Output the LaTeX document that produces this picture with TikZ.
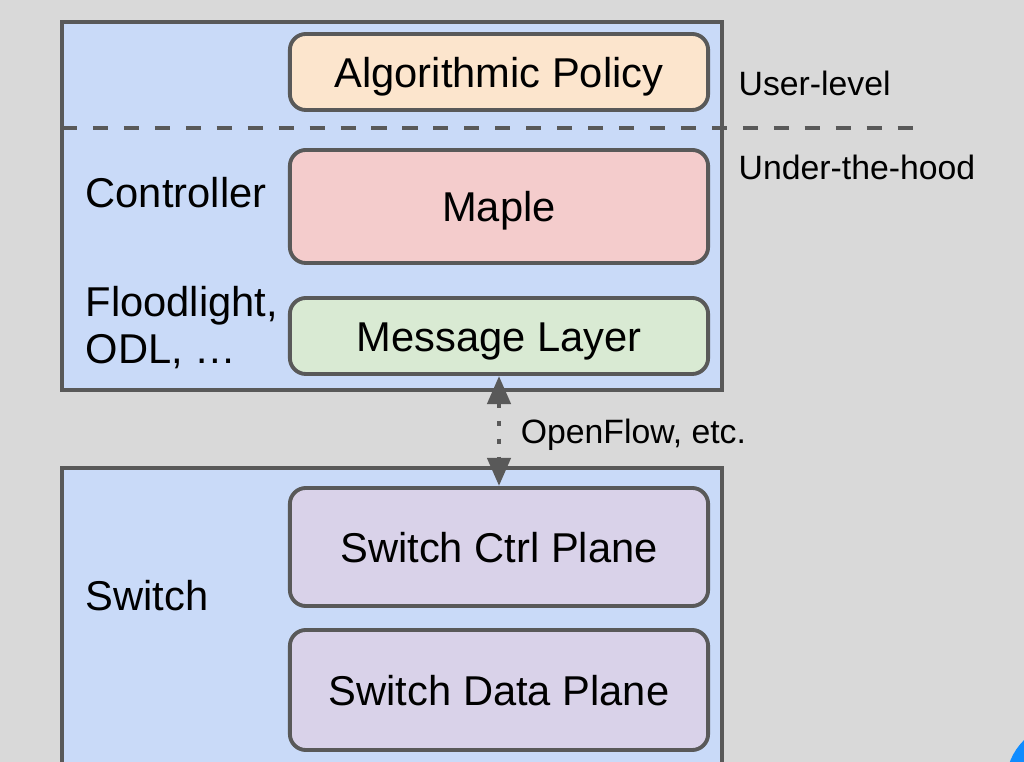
\documentclass[tikz,border=0pt]{standalone}
\usepackage{fontspec}
\setmainfont{Liberation Sans}
\usepackage{tikz}
\usetikzlibrary{arrows.meta, positioning}

\definecolor{bggray}{HTML}{D9D9D9}
\definecolor{edgegray}{HTML}{595959}
\definecolor{panelblue}{HTML}{C9DAF8}
\definecolor{policyfill}{HTML}{FCE5CD}
\definecolor{maplefill}{HTML}{F4CCCC}
\definecolor{msgfill}{HTML}{D9EAD3}
\definecolor{switchfill}{HTML}{D9D2E9}
\definecolor{cornerblue}{RGB}{16,140,255}

\begin{document}
\begin{tikzpicture}[
    x=0.01cm, y=-0.01cm,
    panel/.style={draw=edgegray, fill=panelblue, line width=1.1pt},
    layer/.style={rectangle, rounded corners=0.16cm, draw=edgegray, line width=1.1pt, minimum width=4.18cm, text height=0.86em, text depth=0pt, font=\fontsize{11.85}{14.2}\selectfont},
    sidelabel/.style={anchor=west, align=left, inner sep=0pt, font=\fontsize{11.85}{13.4}\selectfont},
    note/.style={anchor=west, inner sep=0pt, font=\fontsize{9.6}{11.5}\selectfont},
    link/.style={{Triangle[length=8pt,width=6.5pt]}-{Triangle[length=8pt,width=6.5pt]}, draw=edgegray, line width=1.4pt, dash pattern=on 1.4pt off 3.7pt}
]

% page and background
\useasboundingbox (0,0) rectangle (1024,762);
\fill[bggray] (0,0) rectangle (1024,762);
\fill[cornerblue] (1066,783) circle (60);

% outer panels
\draw[panel] (62,22) rectangle (722,390);
\draw[panel] (62,468) rectangle (722,800);

% controller layers
\node[layer, fill=policyfill, minimum height=0.76cm] (policy) at (499,72) {Algorithmic Policy};
\node[layer, fill=maplefill, minimum height=1.13cm] (maple) at (499,206.5) {Maple};
\node[layer, fill=msgfill, minimum height=0.76cm] (msg) at (499,336) {Message Layer};

% switch layers
\node[layer, fill=switchfill, minimum height=1.18cm] (ctrl) at (499,547) {Switch Ctrl Plane};
\node[layer, fill=switchfill, minimum height=1.20cm] (data) at (499,690) {Switch Data Plane};

% user-level / under-the-hood split
\coordinate (splitL) at (62,128);
\coordinate (splitR) at (915,128);
\draw[edgegray, line width=1.3pt, dash pattern=on 4.3pt off 4.5pt] (splitL) -- (splitR);
\node[note] (user) at (738,83) {User-level};
\node[note] (hood) at (738,167) {Under-the-hood};

% panel labels
\node[sidelabel] (controller) at (85,193) {Controller};
\node[sidelabel] (impls) at (85,328) {Floodlight,\\ODL, \dots};
\node[sidelabel] (switch) at (85,596) {Switch};

% protocol between controller and switch
\draw[link] (msg.south) -- node[note, right=5.5pt, yshift=-1.1pt] (proto) {OpenFlow, etc.} (ctrl.north);

\end{tikzpicture}
\end{document}
